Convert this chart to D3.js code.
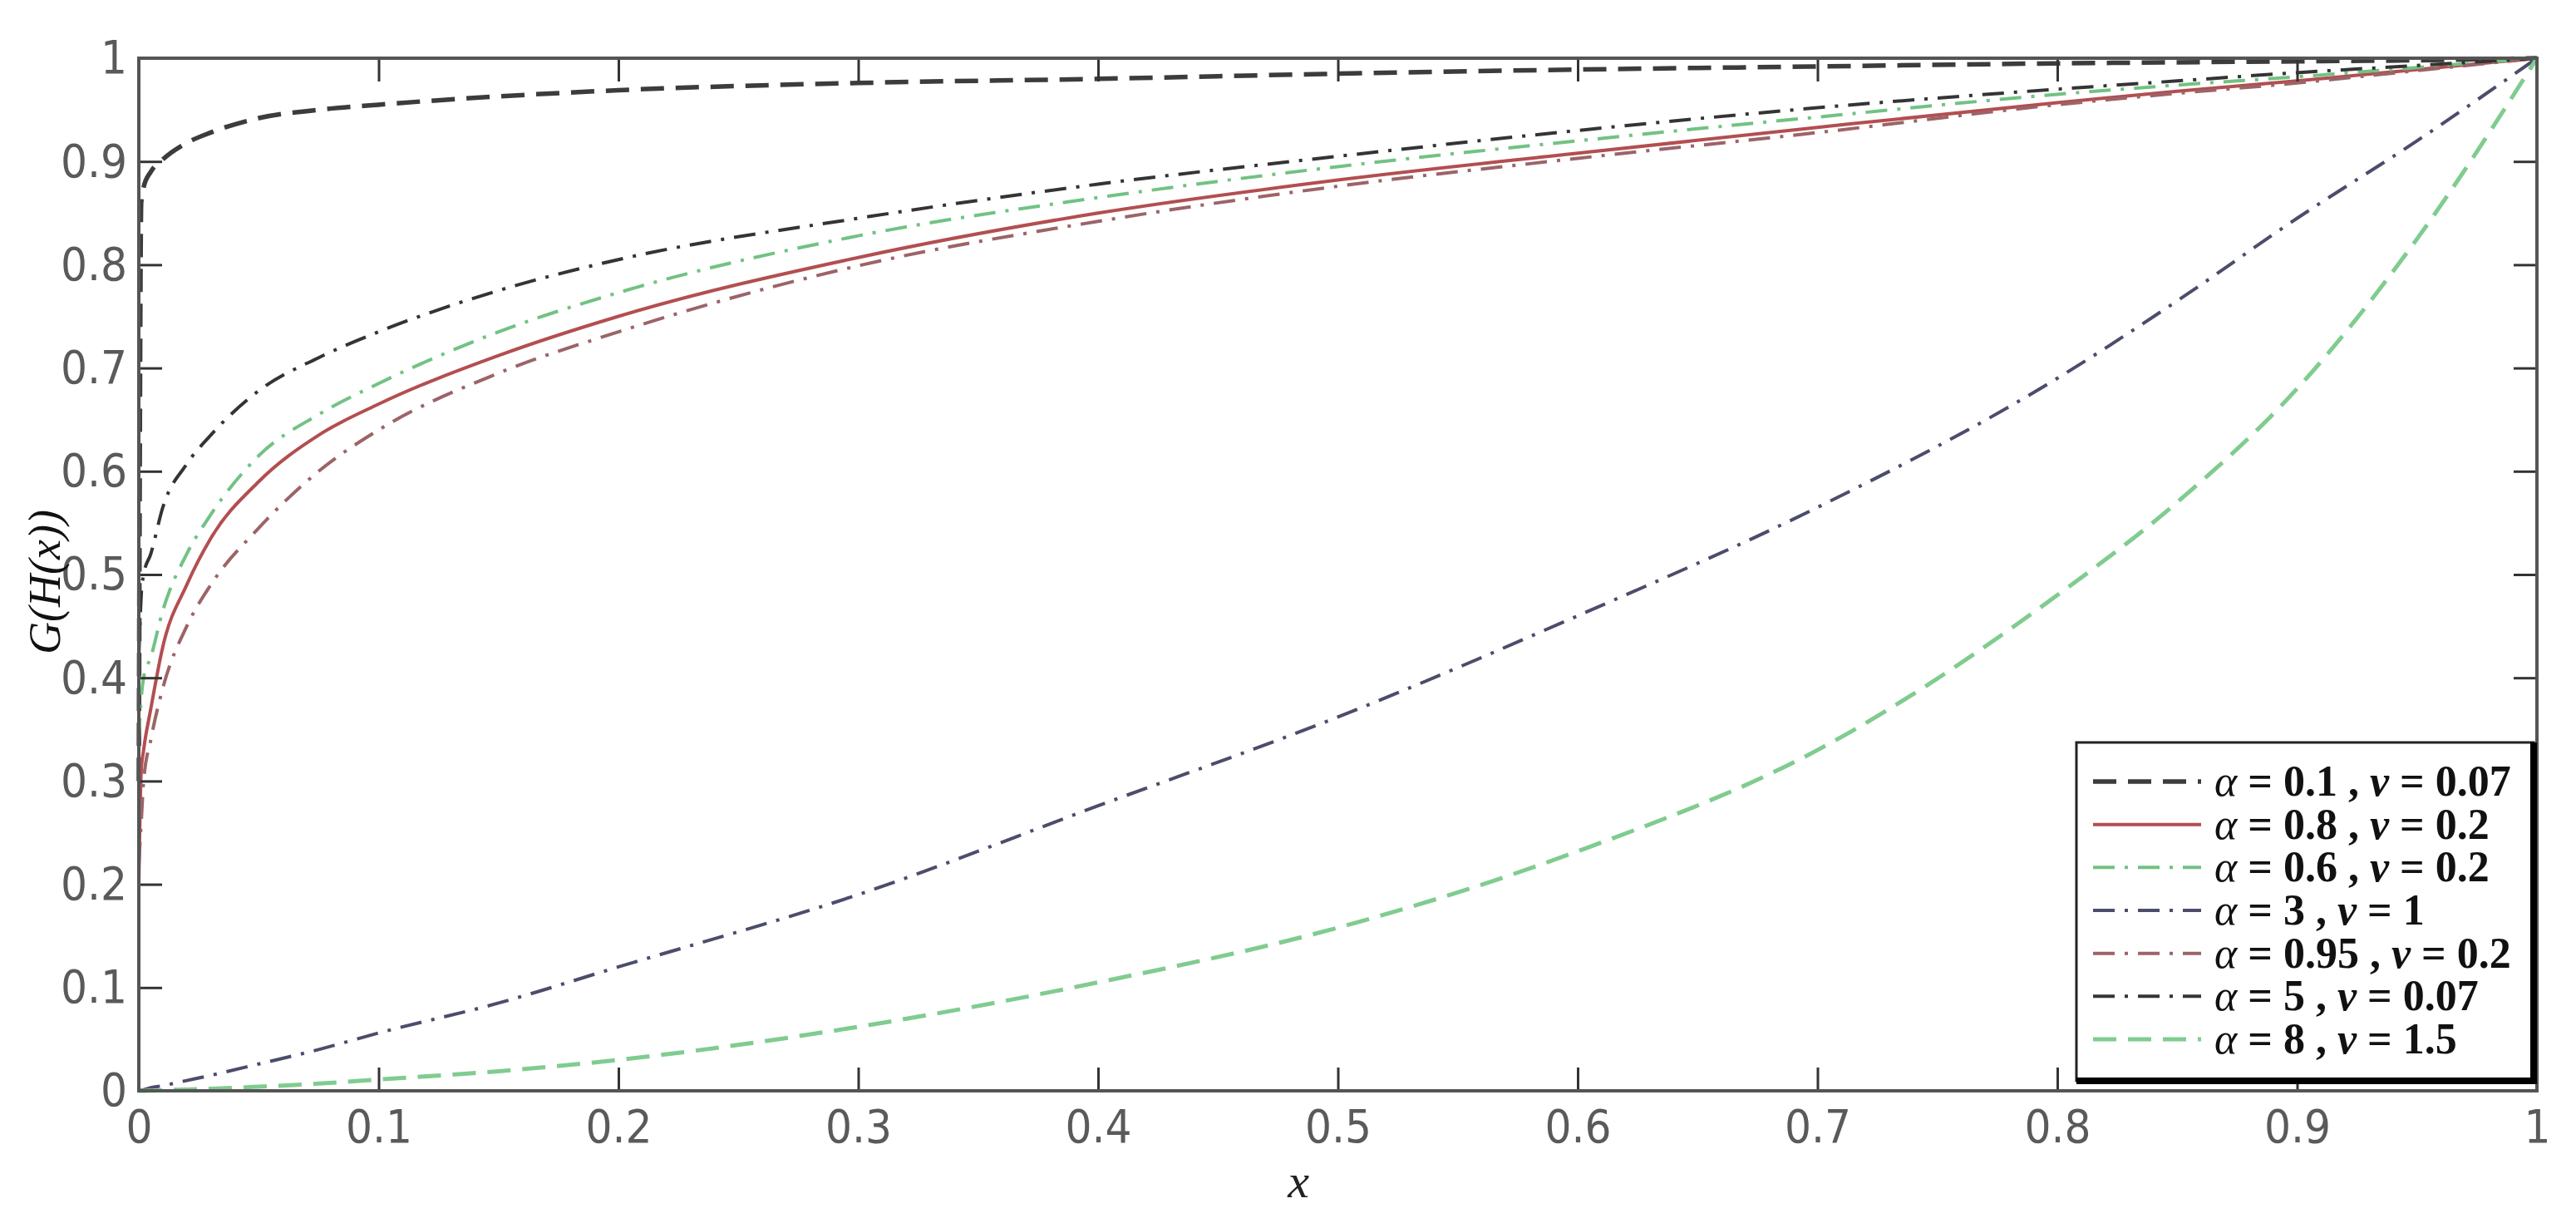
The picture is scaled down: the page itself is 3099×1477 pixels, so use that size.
<!DOCTYPE html>
<html>
<head>
<meta charset="utf-8">
<script src="https://cdn.jsdelivr.net/npm/d3@7"></script>
<style>
  html, body { margin: 0; padding: 0; background: #ffffff; }
  svg { display: block; }
</style>
</head>
<body>
<svg id="chart" width="3099" height="1477"></svg>
<script>
// ---------------- data ----------------
const xValues = [0, 0.001, 0.002, 0.005, 0.01, 0.02, 0.03, 0.05, 0.075, 0.1, 0.15, 0.2, 0.3, 0.4, 0.5, 0.6, 0.7, 0.8, 0.85, 0.9, 0.95, 1];

const yA01 = [0.30, 0.86, 0.875, 0.89, 0.902, 0.918, 0.928, 0.942, 0.95, 0.955, 0.963, 0.969, 0.976, 0.980, 0.985, 0.989, 0.992, 0.995, 0.996, 0.997, 0.998, 1.0];
const yA08 = [0.20, 0.31, 0.33, 0.37, 0.43, 0.49, 0.535, 0.59, 0.635, 0.665, 0.712, 0.750, 0.807, 0.850, 0.882, 0.908, 0.933, 0.957, 0.968, 0.978, 0.989, 1.0];
const yA06 = [0.34, 0.38, 0.40, 0.42, 0.465, 0.52, 0.558, 0.615, 0.655, 0.685, 0.735, 0.773, 0.828, 0.865, 0.895, 0.920, 0.943, 0.965, 0.974, 0.982, 0.991, 1.0];
const yA3  = [0, 0.0006, 0.001, 0.003, 0.005, 0.010, 0.015, 0.026, 0.040, 0.056, 0.085, 0.120, 0.190, 0.276, 0.362, 0.460, 0.565, 0.690, 0.765, 0.845, 0.920, 1.0];
const yA095= [0.22, 0.26, 0.30, 0.34, 0.39, 0.45, 0.49, 0.545, 0.60, 0.640, 0.695, 0.735, 0.799, 0.842, 0.876, 0.903, 0.928, 0.955, 0.966, 0.976, 0.988, 1.0];
const yA5  = [0.42, 0.48, 0.50, 0.52, 0.565, 0.607, 0.635, 0.678, 0.710, 0.735, 0.775, 0.805, 0.845, 0.878, 0.905, 0.930, 0.952, 0.970, 0.978, 0.986, 0.993, 1.0];
const yA8  = [0, 0, 0, 0.0003, 0.0006, 0.0013, 0.002, 0.004, 0.007, 0.011, 0.019, 0.030, 0.062, 0.105, 0.158, 0.232, 0.330, 0.480, 0.570, 0.680, 0.825, 1.0];

const alphaValues = ["0.1", "0.8", "0.6", "3", "0.95", "5", "8"];
const nuValues    = ["0.07", "0.2", "0.2", "1", "0.2", "0.07", "1.5"];

const xTickValues = [0, 0.1, 0.2, 0.3, 0.4, 0.5, 0.6, 0.7, 0.8, 0.9, 1];
const xTickLabels = ["0", "0.1", "0.2", "0.3", "0.4", "0.5", "0.6", "0.7", "0.8", "0.9", "1"];
const yTickValues = [0, 0.1, 0.2, 0.3, 0.4, 0.5, 0.6, 0.7, 0.8, 0.9, 1];
const yTickLabels = ["0", "0.1", "0.2", "0.3", "0.4", "0.5", "0.6", "0.7", "0.8", "0.9", "1"];

// ---------------- styles ----------------
const seriesData = [yA01, yA08, yA06, yA3, yA095, yA5, yA8];
const seriesStyle = [
  { color: "#3c3c3c", width: 5.5, dash: "28,14" },
  { color: "#b34e50", width: 4,   dash: null },
  { color: "#72c283", width: 4,   dash: "26,12,4,12" },
  { color: "#4c4c6c", width: 4,   dash: "26,12,4,12" },
  { color: "#9c6468", width: 4,   dash: "26,12,4,12" },
  { color: "#343434", width: 4,   dash: "26,12,4,12" },
  { color: "#80cc90", width: 5,   dash: "28,14" }
];

// ---------------- layout ----------------
const L = 167, R = 3052, T = 70, B = 1312;
const svg = d3.select("#chart");
svg.append("rect").attr("width", 3099).attr("height", 1477).attr("fill", "#ffffff");

const x = d3.scaleLinear().domain([0, 1]).range([L, R]);
const y = d3.scaleLinear().domain([0, 1]).range([B, T]);

const tickFont = "'Liberation Sans Narrow', 'DejaVu Sans Condensed', 'Liberation Sans', sans-serif";
const axisColor = "#555555";

// curves
const line = d3.line()
  .x((d, i) => x(xValues[i]))
  .y(d => y(d))
  .curve(d3.curveMonotoneX);

const curves = svg.append("g");
seriesData.forEach((s, k) => {
  const st = seriesStyle[k];
  curves.append("path")
    .datum(s)
    .attr("d", line)
    .attr("fill", "none")
    .attr("stroke", st.color)
    .attr("stroke-width", st.width)
    .attr("stroke-dasharray", st.dash)
    .attr("stroke-linejoin", "round");
});

// axes (inward ticks, MATLAB-like box)
const tickLen = 28;
function styleAxis(g) {
  g.select(".domain").remove();
  g.selectAll(".tick line").attr("stroke", "#333333").attr("stroke-width", 3);
  g.selectAll(".tick text")
    .attr("fill", "#5a5a5a")
    .style("font-family", tickFont)
    .style("font-size", "56px");
}

svg.append("g")
  .attr("transform", `translate(0,${B})`)
  .call(d3.axisBottom(x).tickValues(xTickValues)
        .tickFormat((d, i) => xTickLabels[i]).tickSize(-tickLen).tickPadding(22))
  .call(styleAxis);

svg.append("g")
  .attr("transform", `translate(0,${T})`)
  .call(d3.axisTop(x).tickValues(xTickValues).tickFormat("").tickSize(-tickLen))
  .call(styleAxis);

svg.append("g")
  .attr("transform", `translate(${L},0)`)
  .call(d3.axisLeft(y).tickValues(yTickValues)
        .tickFormat((d, i) => yTickLabels[i]).tickSize(-tickLen).tickPadding(14))
  .call(styleAxis);

svg.append("g")
  .attr("transform", `translate(${R},0)`)
  .call(d3.axisRight(y).tickValues(yTickValues).tickFormat("").tickSize(-tickLen))
  .call(styleAxis);

// frame
svg.append("rect")
  .attr("x", L).attr("y", T).attr("width", R - L).attr("height", B - T)
  .attr("fill", "none").attr("stroke", axisColor).attr("stroke-width", 4);

// axis titles
svg.append("text")
  .attr("x", 1562).attr("y", 1440)
  .attr("text-anchor", "middle")
  .style("font-family", "'Liberation Serif', 'DejaVu Serif', serif")
  .style("font-style", "italic")
  .style("font-size", "58px")
  .attr("fill", "#222")
  .text("x");

svg.append("text")
  .attr("transform", "translate(72,700) rotate(-90)")
  .attr("text-anchor", "middle")
  .style("font-family", "'Liberation Serif', 'DejaVu Serif', serif")
  .style("font-style", "italic")
  .style("font-size", "54px")
  .attr("fill", "#111")
  .text("G(H(x))");

// ---------------- legend ----------------
const lgL = 2498, lgR = 3048, lgT = 893, lgB = 1300;
const lg = svg.append("g");
lg.append("rect")
  .attr("x", lgL).attr("y", lgT).attr("width", lgR - lgL).attr("height", lgB - lgT)
  .attr("fill", "#ffffff").attr("stroke", "#222").attr("stroke-width", 3);
// thick right & bottom edges
lg.append("line").attr("x1", lgR).attr("x2", lgR).attr("y1", lgT).attr("y2", lgB + 4)
  .attr("stroke", "#000").attr("stroke-width", 8);
lg.append("line").attr("x1", lgL).attr("x2", lgR + 4).attr("y1", lgB).attr("y2", lgB)
  .attr("stroke", "#000").attr("stroke-width", 8);

const rowY = d3.scaleLinear().domain([0, alphaValues.length - 1]).range([940, 1250]);
alphaValues.forEach((a, k) => {
  const st = seriesStyle[k];
  const yy = rowY(k);
  lg.append("line")
    .attr("x1", 2518).attr("x2", 2648).attr("y1", yy).attr("y2", yy)
    .attr("stroke", st.color).attr("stroke-width", st.width)
    .attr("stroke-dasharray", st.dash);
  const t = lg.append("text")
    .attr("x", 2664).attr("y", yy + 17)
    .style("font-family", "'Liberation Serif', 'DejaVu Serif', serif")
    .style("font-size", "52px")
    .style("font-weight", "bold")
    .attr("fill", "#111");
  t.append("tspan").style("font-style", "italic").style("font-weight", "normal").text("α");
  t.append("tspan").text(" = " + a + " , ");
  t.append("tspan").style("font-style", "italic").text("ν");
  t.append("tspan").text(" = " + nuValues[k]);
});
</script>
</body>
</html>
